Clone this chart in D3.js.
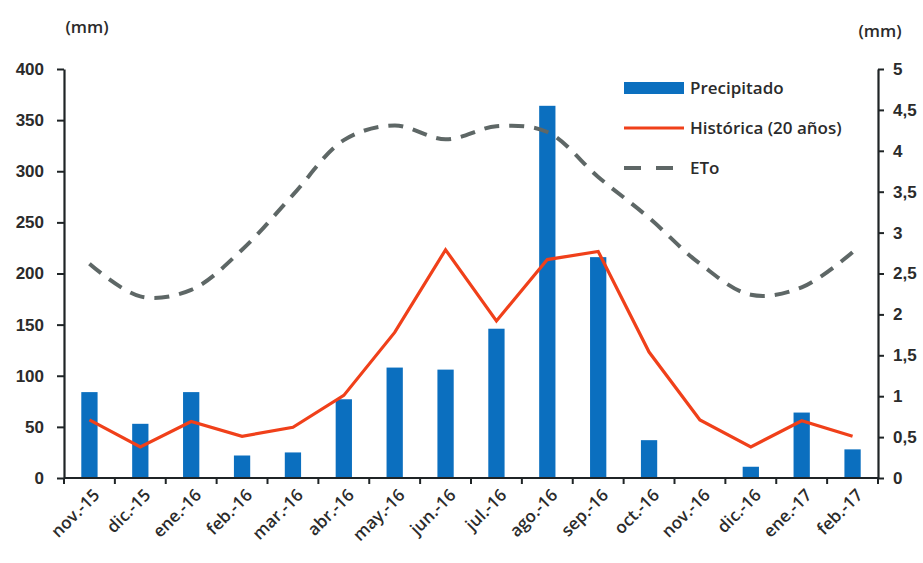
<!DOCTYPE html>
<html>
<head>
<meta charset="utf-8">
<script src="https://cdn.jsdelivr.net/npm/d3@7"></script>
<style>
  html, body { margin: 0; padding: 0; background: #fff; }
  svg { display: block; font-family: "Open Sans", "Noto Sans", sans-serif; }
</style>
</head>
<body>
<svg id="chart" width="923" height="563"></svg>
<script>
// Monthly series, nov-2015 to feb-2017
const months = ["nov.-15", "dic.-15", "ene.-16", "feb.-16", "mar.-16", "abr.-16", "may.-16", "jun.-16",
                "jul.-16", "ago.-16", "sep.-16", "oct.-16", "nov.-16", "dic.-16", "ene.-17", "feb.-17"];
// Precipitation recorded (mm, left axis)
const precipitado = [84, 53, 84, 22, 25, 77, 108, 106, 146, 364, 216, 37, 0, 11, 64, 28];
// 20-year historical mean (mm, right axis)
const historica = [0.71, 0.38, 0.69, 0.51, 0.62, 1.01, 1.78, 2.79, 1.92, 2.67, 2.77, 1.54, 0.71, 0.38, 0.70, 0.51];
// Reference evapotranspiration (mm, right axis)
const eto = [2.62, 2.22, 2.30, 2.79, 3.46, 4.13, 4.31, 4.14, 4.30, 4.23, 3.68, 3.18, 2.62, 2.24, 2.33, 2.76];

const leftTicks = [0, 50, 100, 150, 200, 250, 300, 350, 400];
const rightTicks = [0, 0.5, 1, 1.5, 2, 2.5, 3, 3.5, 4, 4.5, 5];
const legendNames = ["Precipitado", "Histórica (20 años)", "ETo"];

const colors = { bar: "#0b6fbf", hist: "#f0401a", eto: "#5e6766", axis: "#1f2426", text: "#2b2b2b" };
const fontSize = "17px";

const svg = d3.select("#chart");
const plot = { left: 64, right: 878, top: 69, bottom: 478 };

const x = d3.scaleBand().domain(months).range([plot.left, plot.right])
  .paddingInner(0.68).paddingOuter(0.34);
const xc = d => x(d) + x.bandwidth() / 2;
const yL = d3.scaleLinear().domain([0, 400]).range([plot.bottom, plot.top]);
const yR = d3.scaleLinear().domain([0, 5]).range([plot.bottom, plot.top]);

const comma = d3.formatLocale({ decimal: ",", thousands: ".", grouping: [3], currency: ["", ""] }).format("~g");

// Bars
svg.append("g").selectAll("rect").data(precipitado).join("rect")
  .attr("x", (d, i) => x(months[i]))
  .attr("width", x.bandwidth())
  .attr("y", d => yL(d))
  .attr("height", d => plot.bottom - yL(d))
  .attr("fill", colors.bar);

// ETo (smoothed, dashed)
const etoLine = d3.line().x((d, i) => xc(months[i])).y(d => yR(d)).curve(d3.curveCatmullRom.alpha(0.5));
svg.append("path").datum(eto)
  .attr("d", etoLine)
  .attr("fill", "none")
  .attr("stroke", colors.eto)
  .attr("stroke-width", 4)
  .attr("stroke-dasharray", "15,10");

// Historical line
const histLine = d3.line().x((d, i) => xc(months[i])).y(d => yR(d));
svg.append("path").datum(historica)
  .attr("d", histLine)
  .attr("fill", "none")
  .attr("stroke", colors.hist)
  .attr("stroke-width", 3.2)
  .attr("stroke-linejoin", "miter");

// Axes
function styleAxis(g) {
  g.select(".domain").attr("stroke", colors.axis).attr("stroke-width", 2.2);
  g.selectAll(".tick line").attr("stroke", colors.axis).attr("stroke-width", 2);
  g.selectAll(".tick text").attr("fill", colors.text)
    .style("font-size", fontSize).style("font-weight", "600");
}

const gL = svg.append("g").attr("transform", `translate(${plot.left},0)`)
  .call(d3.axisLeft(yL).tickValues(leftTicks).tickSize(7).tickSizeOuter(0).tickPadding(13));
styleAxis(gL);

const gR = svg.append("g").attr("transform", `translate(${plot.right},0)`)
  .call(d3.axisRight(yR).tickValues(rightTicks).tickFormat(comma).tickSize(6).tickSizeOuter(0).tickPadding(9));
styleAxis(gR);

// Category axis: ticks between months
const xEdges = d3.scaleLinear().domain([0, months.length]).range([plot.left, plot.right]);
const gX = svg.append("g").attr("transform", `translate(0,${plot.bottom})`);
gX.append("line").attr("x1", plot.left).attr("x2", plot.right)
  .attr("stroke", colors.axis).attr("stroke-width", 2.2);
gX.selectAll("line.tk").data(d3.range(months.length + 1)).join("line")
  .attr("class", "tk")
  .attr("x1", d => xEdges(d)).attr("x2", d => xEdges(d))
  .attr("y1", 0).attr("y2", 6)
  .attr("stroke", colors.axis).attr("stroke-width", 2);
gX.selectAll("text").data(months).join("text")
  .attr("transform", d => `translate(${xc(d) + 7},${14}) rotate(-45)`)
  .attr("text-anchor", "end")
  .attr("dy", "0.35em")
  .attr("fill", colors.text)
  .style("font-size", fontSize).style("font-weight", "600")
  .text(d => d);

// Unit labels
svg.append("text").attr("x", 87).attr("y", 27).attr("text-anchor", "middle").attr("dy", "0.35em")
  .attr("fill", colors.text).style("font-size", fontSize).style("font-weight", "600").text("(mm)");
svg.append("text").attr("x", 880).attr("y", 31).attr("text-anchor", "middle").attr("dy", "0.35em")
  .attr("fill", colors.text).style("font-size", fontSize).style("font-weight", "600").text("(mm)");

// Legend
const legend = svg.append("g").attr("transform", "translate(624,0)");
const rows = [88, 128, 168];
legend.append("rect").attr("x", 0).attr("y", rows[0] - 6).attr("width", 60).attr("height", 12).attr("fill", colors.bar);
legend.append("line").attr("x1", 0).attr("x2", 60).attr("y1", rows[1]).attr("y2", rows[1])
  .attr("stroke", colors.hist).attr("stroke-width", 3.2);
legend.append("line").attr("x1", 0).attr("x2", 60).attr("y1", rows[2]).attr("y2", rows[2])
  .attr("stroke", colors.eto).attr("stroke-width", 4).attr("stroke-dasharray", "17,15");
legend.selectAll("text").data(legendNames).join("text")
  .attr("x", 66).attr("y", (d, i) => rows[i]).attr("dy", "0.35em")
  .attr("fill", colors.text).style("font-size", fontSize).style("font-weight", "600")
  .text(d => d);
</script>
</body>
</html>
